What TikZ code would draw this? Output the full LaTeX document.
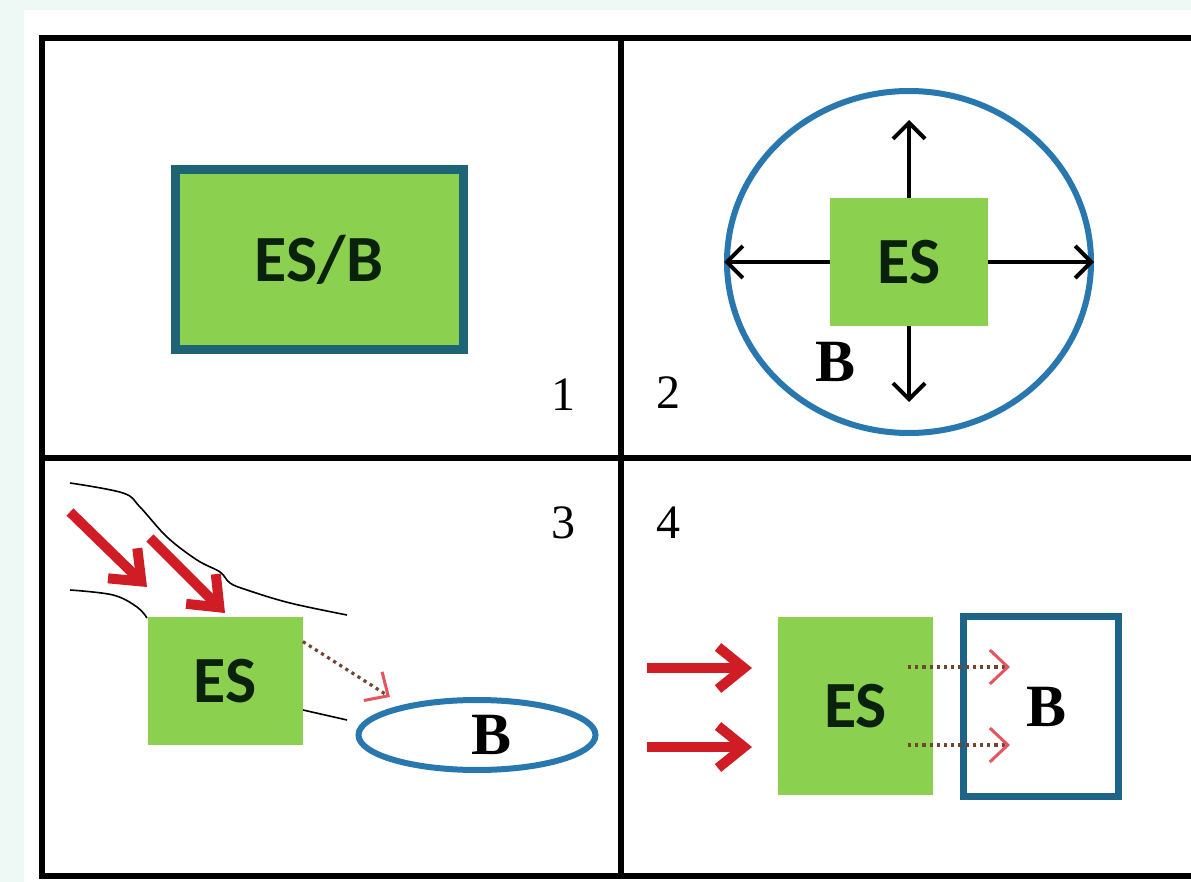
\documentclass[tikz,border=0pt]{standalone}
\usepackage{fontspec}
\setmainfont{Liberation Serif}
\newfontfamily\labelfont{Carlito}
\usetikzlibrary{arrows.meta,shapes.geometric}

\definecolor{esgreen}{RGB}{140,208,80}
\definecolor{estext}{RGB}{10,34,12}
\definecolor{tealline}{RGB}{28,100,118}
\definecolor{blueline}{RGB}{40,120,175}
\definecolor{boxblue}{RGB}{30,100,135}
\definecolor{arrowred}{RGB}{208,28,36}
\definecolor{headred}{RGB}{228,85,95}
\definecolor{leakdots}{RGB}{110,70,50}
\definecolor{mint}{RGB}{238,249,245}

\tikzset{
  frame/.style={line width=3pt,black},
  esbox/.style={fill=esgreen,inner sep=0pt,text=estext,
    font=\labelfont\bfseries\fontsize{33}{33}\selectfont},
  bmark/.style={font=\bfseries\fontsize{30}{30}\selectfont},
  num/.style={font=\fontsize{24}{24}\selectfont},
  push/.style={line width=2pt,-{Straight Barb[length=8pt,width=16pt]}},
  inflow/.style={draw=arrowred,line width=5pt,-{Straight Barb[length=13pt,width=21pt]}},
  leak/.style={draw=leakdots,line width=1.6pt,dotted,
    -{Straight Barb[length=9pt,width=17pt,color=headred,line width=1.5pt]}},
  wave/.style={line width=0.8pt,black}
}

\begin{document}
\begin{tikzpicture}[x=0.5pt,y=-0.5pt]
  \useasboundingbox (0,0) rectangle (1191,882);
  \clip (0,0) rectangle (1191,882);
  \fill[mint] (0,0) rectangle (1191,882);
  \fill[white] (24,10) rectangle (1191,882);

  % grid
  \draw[frame] (42,38) rectangle (1220,876);
  \draw[frame] (621,38) -- (621,876);
  \draw[frame] (42,458) -- (1220,458);

  % 1
  \node[esbox,draw=tealline,line width=4.5pt,minimum width=144pt,minimum height=90pt] (esb1) at (319,260) {ES/B};
  \node[num] (n1) at (563,395) {1};

  % 2
  \node[draw=blueline,line width=3pt,ellipse,minimum width=182pt,minimum height=171pt] (bub2) at (909,262) {};
  \node[esbox,minimum width=79pt,minimum height=64pt] (es2) at (909,262) {ES};
  \coordinate (up2) at (909,120);
  \coordinate (down2) at (909,402);
  \draw[push] (es2.north) -- (up2);
  \draw[push] (es2.south) -- (down2);
  \draw[push] (es2.west) -- (bub2.west);
  \draw[push] (es2.east) -- (bub2.east);
  \node[bmark] (b2) at (836,362) {B};
  \node[num] (n2) at (668,393) {2};

  % 3
  \node[num] (n3) at (563,523) {3};
  \node[esbox,minimum width=77.5pt,minimum height=64pt] (es3) at (225,681) {ES};
  \node[draw=blueline,line width=3pt,ellipse,minimum width=118.5pt,minimum height=35pt] (bub3) at (477,735) {};
  \node[bmark] (b3) at (492,735) {B};
  \draw[wave] plot[smooth,tension=0.6] coordinates {(70,483) (123,493) (140,507) (167,537) (197,560) (220,572) (230,583) (247,590) (290,603) (347,615)};
  \draw[wave] plot[smooth,tension=0.6] coordinates {(70,590) (113,595) (137,607) (147,618)};
  \draw[wave] (303,710) -- (347,720);
  \coordinate (r1a) at (70,512);
  \coordinate (r1b) at (147,587);
  \coordinate (r2a) at (150,538);
  \coordinate (r2b) at (225,613);
  \draw[inflow] (r1a) -- (r1b);
  \draw[inflow] (r2a) -- (r2b);
  \coordinate (d3) at (390,697);
  \draw[leak] ([yshift=-12.5pt]es3.north east) -- (d3);

  % 4
  \node[num] (n4) at (668,523) {4};
  \node[esbox,minimum width=77.5pt,minimum height=89pt] (es4) at (855.5,706) {ES};
  \node[draw=boxblue,line width=3.5pt,minimum width=77.5pt,minimum height=90pt,bmark] (b4) at (1041,706.5) {\hspace{6pt}B};
  \coordinate (r3a) at (647,668);
  \coordinate (r3b) at (752,668);
  \coordinate (r4a) at (647,747);
  \coordinate (r4b) at (752,747);
  \draw[inflow] (r3a) -- (r3b);
  \draw[inflow] (r4a) -- (r4b);
  \coordinate (l1a) at (908,667);
  \coordinate (l1b) at (1010,667);
  \coordinate (l2a) at (908,745);
  \coordinate (l2b) at (1010,745);
  \draw[leak] (l1a) -- (l1b);
  \draw[leak] (l2a) -- (l2b);
\end{tikzpicture}
\end{document}
